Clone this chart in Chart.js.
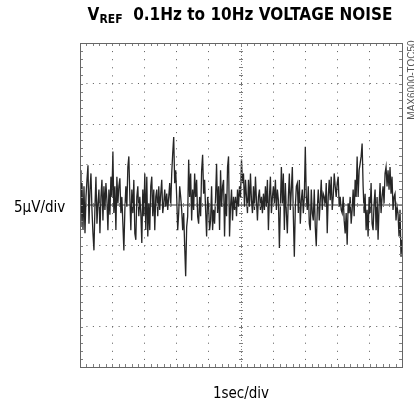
<!DOCTYPE html>
<html>
<head>
<meta charset="utf-8">
<script src="https://cdn.jsdelivr.net/npm/chart.js@4/dist/chart.umd.min.js"></script>
<style>
  html, body { margin: 0; padding: 0; background: #fff; }
  #wrap { width: 414px; height: 404px; position: relative; }
</style>
</head>
<body>
<div id="wrap"><canvas id="noiseChart"></canvas></div>
<script>
// scope settings: 10 horizontal divisions of 1 s, 8 vertical divisions of 5 uV
const xDivs = 10, secPerDiv = 1;
const yDivs = 8, uvPerDiv = 5;

// trace, in uV, left to right across the 10 s sweep
const noiseUV = [
  // 0 .. 3.4 s
  4.3, -2.7, 2.7, -3.1, 2.3, -3.5, 1.0, 3.1, 4.9, -2.3,
  1.9, 3.9, -0.6, -3.5, -5.6, -0.2, 3.5, -2.3, 0.2, 1.9,
  -3.5, 1.0, 3.1, -1.9, 2.3, -0.6, 2.7, 0.6, -3.1, 1.9,
  -1.2, 3.5, 1.0, 6.6, -1.0, 2.3, -3.1, 3.5, 0.2, 2.3,
  3.3, -1.0, 1.0, -2.3, -5.6, -0.6, 2.3, -0.2, 4.7, 6.0,
  1.0, -3.1, 1.9, -1.0, 3.1, -3.5, -4.3, 1.0, 2.3, -1.4,
  1.0, -1.0, -4.7, 1.9, -1.4, 3.9, -3.1, 3.5, -3.9, 0.2,
  -3.1, 2.3, 3.5, -1.4, 1.9, -3.1, 1.0, 1.9, -1.4, 2.3,
  -0.6, 1.4, 3.1, -1.0, 0.2, 1.9, -0.2, 1.4, -0.6, 1.0,
  2.7, -0.2, 3.9, 6.4, 8.4, 2.7, 4.3, 1.0, -3.1, -1.0,
  2.3, 1.0, -0.6, -3.1, -1.0, -5.1, -8.8, -2.7, -1.4,
  // 3.4 .. 6.7 s
  5.6, 1.0, 3.9, -1.9, 1.9, -0.6, 3.9, 1.0, 3.1, -1.4,
  -2.3, 1.0, -1.4, 4.3, 6.2, 1.4, 3.1, -0.6, -3.9, 1.0,
  -0.2, -3.1, -1.9, 2.3, -3.1, -0.6, -2.3, 1.0, 5.1, -1.0,
  2.3, -3.1, 4.3, -0.2, 2.3, 3.1, -3.9, 1.4, -1.4, 4.7,
  6.0, -3.9, -0.2, 1.9, -1.9, 1.0, -0.6, 1.0, -1.4, 1.9,
  -0.2, 2.3, 1.0, 5.6, 2.7, 3.9, -0.2, 3.1, 1.0, -1.0,
  3.1, -0.2, 3.9, 0.6, -1.0, 2.3, -0.6, 3.5, 0.6, -1.9,
  1.0, 1.9, -0.6, 1.0, -1.0, 1.4, -0.6, 2.3, -0.2, 3.1,
  -3.1, 1.0, 3.5, -1.0, 1.0, 2.3, 0.2, 3.1, -0.6, 1.9,
  0.6, -5.3, -0.2, 4.7, 0.2, 3.9, -3.1, 2.7, -1.0, -3.5,
  1.0, 3.9, -0.6, 1.9, 4.7, -1.4, -6.4, -0.2, 2.3,
  // 6.7 .. 10 s
  2.7, -1.0, 3.1, -2.3, 0.6, 1.9, -1.0, 1.0, 7.2, 1.0,
  -0.6, 2.3, -2.3, -3.1, 1.9, -1.0, -1.9, 1.9, -2.7, -5.1,
  -0.6, 1.9, -1.9, 0.6, 3.1, -0.6, 1.4, 1.0, -0.2, 2.7,
  -3.5, 1.0, 3.1, 0.6, 3.5, -0.6, 1.0, 3.9, 2.3, 1.0,
  2.7, 3.5, -0.2, 1.0, -0.6, -1.0, 1.0, -1.9, -3.5, -1.0,
  -4.9, 0.2, -1.0, 1.0, -2.3, -0.6, 1.9, -1.4, 3.1, 1.0,
  6.0, 1.0, 4.3, 5.1, 6.0, 7.6, 2.3, -1.0, 1.4, -3.1,
  -0.6, -3.9, 1.0, -1.0, 2.7, -2.3, -3.1, 0.2, 1.9, -3.1,
  1.0, -4.3, -0.2, 2.7, -1.0, 1.0, 2.3, 0.2, 3.9, 4.7,
  2.3, 4.3, 1.9, 4.7, 1.4, 3.5, -0.6, 1.0, 1.4, -1.9,
  -0.2, -1.0, -3.9, -0.6, -6.4, -4.3
];

const sweep = xDivs * secPerDiv;
const step = sweep / (noiseUV.length - 1);
const points = noiseUV.map((v, i) => ({ x: i * step, y: v }));

const gridGray = '#5a5a5a';

// crosshair, border ticks and the texts around the screen
const scopeDecor = {
  id: 'scopeDecor',
  afterDraw(chart) {
    const ctx = chart.ctx;
    const xs = chart.scales.x, ys = chart.scales.y;
    const a = chart.chartArea;
    const cx = xs.getPixelForValue(sweep / 2);
    const cy = ys.getPixelForValue(0);

    ctx.save();
    ctx.strokeStyle = '#808080';
    ctx.lineWidth = 1;

    // minor ticks: 5 per division
    ctx.beginPath();
    for (let i = 0; i <= xDivs * 5; i++) {
      const px = Math.round(xs.getPixelForValue(i * secPerDiv / 5)) + 0.5;
      ctx.moveTo(px, a.top); ctx.lineTo(px, a.top + 3);
      ctx.moveTo(px, a.bottom); ctx.lineTo(px, a.bottom - 3);
      ctx.moveTo(px, cy - 2); ctx.lineTo(px, cy + 2);
    }
    const yMin = -yDivs / 2 * uvPerDiv;
    for (let i = 0; i <= yDivs * 5; i++) {
      const py = Math.round(ys.getPixelForValue(yMin + i * uvPerDiv / 5)) + 0.5;
      ctx.moveTo(a.left, py); ctx.lineTo(a.left + 3, py);
      ctx.moveTo(a.right, py); ctx.lineTo(a.right - 3, py);
      ctx.moveTo(cx - 2, py); ctx.lineTo(cx + 2, py);
    }
    ctx.stroke();

    // center vertical line, finely dotted
    ctx.setLineDash([1, 2]);
    ctx.beginPath();
    ctx.moveTo(Math.round(cx) + 0.5, a.top);
    ctx.lineTo(Math.round(cx) + 0.5, a.bottom);
    ctx.stroke();
    ctx.setLineDash([]);

    // frame
    ctx.strokeStyle = '#666';
    ctx.strokeRect(Math.round(a.left) + 0.5, Math.round(a.top) + 0.5,
                   Math.round(a.right - a.left), Math.round(a.bottom - a.top));

    // title with subscript
    ctx.fillStyle = '#000';
    ctx.textBaseline = 'alphabetic';
    const tFont = 'bold 17px "Liberation Sans Narrow", "Arial Narrow", "DejaVu Sans Condensed", sans-serif';
    const sFont = 'bold 12px "Liberation Sans Narrow", "Arial Narrow", "DejaVu Sans Condensed", sans-serif';
    const p1 = 'V', p2 = 'REF', p3 = '  0.1Hz to 10Hz VOLTAGE NOISE';
    ctx.font = tFont;
    const w1 = ctx.measureText(p1).width, w3 = ctx.measureText(p3).width;
    ctx.font = sFont;
    const w2 = ctx.measureText(p2).width;
    const tx = 240 - (w1 + w2 + w3) / 2;
    ctx.font = tFont; ctx.textAlign = 'left';
    ctx.fillText(p1, tx, 20);
    ctx.font = sFont;
    ctx.fillText(p2, tx + w1, 23);
    ctx.font = tFont;
    ctx.fillText(p3, tx + w1 + w2, 20);

    // axis captions
    ctx.font = '15px "Liberation Sans Narrow", "Arial Narrow", "DejaVu Sans Condensed", sans-serif';
    ctx.textAlign = 'left';
    ctx.textBaseline = 'middle';
    ctx.fillText('5\u00b5V/div', 14, 208);
    ctx.textAlign = 'center';
    ctx.textBaseline = 'alphabetic';
    ctx.fillText('1sec/div', cx, 398);

    // plate id on the right edge
    ctx.translate(412, 80);
    ctx.rotate(-Math.PI / 2);
    ctx.fillStyle = '#555';
    ctx.font = '10px "Liberation Sans Narrow", "Arial Narrow", sans-serif';
    ctx.textAlign = 'center';
    ctx.textBaseline = 'middle';
    ctx.fillText('MAX6000-TOC50', 0, 0);
    ctx.restore();
  }
};

// solid gray zero line under the trace
const zeroLine = {
  id: 'zeroLine',
  beforeDatasetsDraw(chart) {
    const ctx = chart.ctx, a = chart.chartArea;
    const cy = Math.round(chart.scales.y.getPixelForValue(0));
    ctx.save();
    ctx.fillStyle = '#9a9a9a';
    ctx.fillRect(a.left, cy - 1, a.right - a.left, 2);
    ctx.restore();
  }
};

new Chart(document.getElementById('noiseChart'), {
  type: 'line',
  data: {
    datasets: [{
      data: points,
      borderColor: '#262626',
      borderWidth: 1.3,
      pointRadius: 0,
      tension: 0,
      fill: false
    }]
  },
  options: {
    responsive: true,
    maintainAspectRatio: false,
    animation: false,
    events: [],
    layout: { padding: { left: 80, right: 12, top: 43, bottom: 37 } },
    plugins: { legend: { display: false }, tooltip: { enabled: false } },
    scales: {
      x: {
        type: 'linear',
        min: 0, max: sweep,
        ticks: { display: false, stepSize: secPerDiv },
        border: { display: false, dash: [1, 7.1] },
        grid: { color: gridGray, lineWidth: 1, drawTicks: false, tickLength: 0 },
        afterBuildTicks(s) { s.ticks = s.ticks.filter(t => t.value !== sweep / 2); }
      },
      y: {
        min: -yDivs / 2 * uvPerDiv, max: yDivs / 2 * uvPerDiv,
        ticks: { display: false, stepSize: uvPerDiv },
        border: { display: false, dash: [1, 5.44] },
        grid: { color: gridGray, lineWidth: 1, drawTicks: false, tickLength: 0 },
        afterBuildTicks(s) { s.ticks = s.ticks.filter(t => t.value !== 0); }
      }
    }
  },
  plugins: [zeroLine, scopeDecor]
});
</script>
</body>
</html>
